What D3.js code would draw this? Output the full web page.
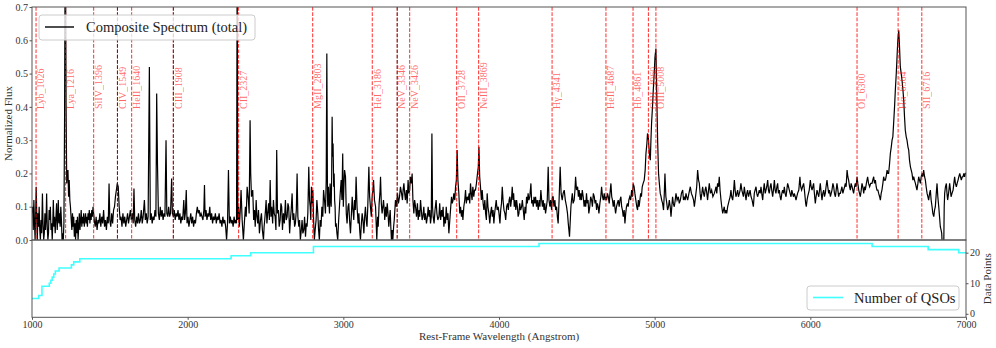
<!DOCTYPE html>
<html>
<head>
<meta charset="utf-8">
<script src="https://cdn.jsdelivr.net/npm/d3@7"></script>
<style>
  body { margin: 0; background: #fff; }
  text { font-family: "Liberation Serif", "Times New Roman", serif; }
</style>
</head>
<body>
<svg id="chart" width="996" height="348"></svg>
<script>
// composite spectrum, [rest wavelength (A), normalized flux]
var spectrum = [
  [1000,0.08],[1004,0.1],[1008,0.03],[1012,0.12],[1016,0.05],[1020,0.0],[1024,0.09],[1027,0.16],[1031,0.06],[1034,0.0],
  [1038,0.08],[1042,0.04],[1046,0.1],[1050,0.03],[1054,0.0],[1058,0.06],[1062,0.02],[1067,0.14],[1071,0.05],[1075,0.0],
  [1079,0.02],[1083,0.08],[1087,0.03],[1091,0.07],[1094,0.14],[1098,0.04],[1102,0.0],[1106,0.02],[1110,0.09],[1114,0.06],
  [1118,0.1],[1122,0.03],[1126,0.05],[1130,0.0],[1134,0.06],[1137,0.12],[1141,0.04],[1145,0.07],[1149,0.02],[1153,0.06],
  [1158,0.11],[1162,0.03],[1166,0.07],[1169,0.12],[1173,0.05],[1177,0.08],[1181,0.04],[1185,0.1],[1189,0.06],[1193,0.0],
  [1197,0.02],[1201,0.0],[1205,0.05],[1209,0.34],[1214,1.0],[1219,0.4],[1223,0.17],[1227,0.2],[1231,0.21],[1235,0.13],
  [1239,0.18],[1243,0.12],[1247,0.1],
  [1252,0.06],[1256,0.03],[1260,0.08],[1264,0.04],[1268,0.07],[1272,0.01],[1276,0.05],[1280,0.0],[1284,0.06],[1288,0.02],
  [1292,0.07],[1296,0.0],[1300,0.04],[1304,0.08],[1308,0.03],[1312,0.06],[1316,0.09],[1320,0.04],[1324,0.07],[1328,0.05],
  [1332,0.08],[1336,0.04],[1340,0.06],[1344,0.08],[1348,0.05],[1352,0.07],[1356,0.04],[1360,0.08],[1364,0.06],[1368,0.09],
  [1372,0.05],[1376,0.08],[1380,0.06],[1384,0.09],[1388,0.07],[1392,0.1],[1396,0.08],[1400,0.06],
  [1406,0.04],[1412,0.07],[1418,0.03],[1424,0.06],[1430,0.05],[1436,0.08],[1442,0.04],[1448,0.07],[1454,0.05],[1460,0.09],
  [1466,0.04],[1472,0.06],[1478,0.03],[1484,0.07],[1490,0.05],[1495,0.17],[1500,0.06],[1506,0.04],[1512,0.08],[1518,0.05],
  [1524,0.09],[1530,0.1],[1536,0.13],[1542,0.15],[1548,0.17],[1554,0.16],[1560,0.1],[1566,0.06],
  [1572,0.07],[1578,0.04],[1584,0.08],[1590,0.05],[1596,0.07],[1602,0.04],[1608,0.06],[1614,0.08],[1620,0.05],[1626,0.07],
  [1632,0.09],[1638,0.06],[1644,0.08],[1650,0.05],[1655,0.155],[1660,0.06],[1666,0.04],[1672,0.07],[1678,0.05],[1684,0.08],
  [1690,0.05],[1696,0.06],[1702,0.09],[1708,0.05],[1714,0.07],[1722,0.12],[1728,0.06],[1734,0.08],[1740,0.05],[1746,0.07],
  [1754,0.52],[1760,0.06],[1766,0.08],[1772,0.05],[1778,0.07],[1784,0.06],[1790,0.09],[1796,0.07],[1801,0.44],[1806,0.23],
  [1812,0.08],[1818,0.06],[1824,0.1],[1830,0.07],[1836,0.09],[1842,0.06],[1848,0.08],[1854,0.07],[1861,0.3],[1866,0.08],
  [1872,0.07],[1878,0.1],[1884,0.07],[1890,0.08],[1897,0.185],[1902,0.08],[1908,0.07],
  [1914,0.09],[1920,0.06],[1926,0.08],[1932,0.07],[1938,0.09],[1944,0.06],[1950,0.08],[1956,0.05],[1962,0.07],[1968,0.06],
  [1975,0.12],[1980,0.06],[1985,0.08],[1991,0.15],[1996,0.05],[2002,0.07],[2008,0.04],[2014,0.06],[2020,0.08],[2026,0.05],
  [2032,0.07],[2038,0.04],[2044,0.06],[2050,0.05],[2056,0.08],[2062,0.1],[2068,0.08],[2074,0.09],[2080,0.07],[2086,0.08],
  [2092,0.07],[2098,0.06],[2104,0.09],[2108,0.165],[2112,0.07],[2118,0.09],[2124,0.06],[2130,0.08],[2136,0.07],[2142,0.1],
  [2148,0.06],[2154,0.08],[2160,0.05],[2166,0.07],[2172,0.06],[2178,0.08],[2184,0.05],[2190,0.07],[2196,0.06],[2202,0.08],
  [2208,0.05],[2214,0.06],[2220,0.04],[2226,0.07],[2232,0.05],[2238,0.06],[2244,0.04],[2250,0.0],[2256,0.05],[2262,0.21],
  [2268,0.05],[2274,0.07],[2280,0.05],[2286,0.06],[2292,0.04],[2298,0.07],[2304,0.05],[2310,0.06],[2314,0.05],[2318,0.85],
  [2322,0.06],[2327,0.1],
  [2332,0.04],[2338,0.09],[2343,0.15],[2350,0.06],[2358,0.0],[2364,0.05],[2371,0.1],[2376,0.07],[2382,0.16],[2390,0.12],
  [2395,0.08],[2401,0.36],[2405,0.2],[2410,0.13],[2418,0.15],[2424,0.06],[2429,0.09],[2434,0.04],[2440,0.12],[2445,0.07],
  [2450,0.05],[2455,0.09],[2461,0.02],[2468,0.06],[2474,0.08],[2480,0.03],[2487,0.0],[2491,0.04],[2495,0.06],[2500,0.09],
  [2504,0.12],[2509,0.05],[2514,0.08],[2520,0.11],[2525,0.06],[2530,0.18],[2535,0.07],[2540,0.1],[2546,0.05],[2551,0.12],
  [2556,0.08],[2562,0.07],[2567,0.03],[2572,0.27],[2577,0.08],[2583,0.09],[2588,0.04],[2594,0.06],[2599,0.11],[2604,0.1],
  [2609,0.03],[2615,0.08],[2621,0.05],[2628,0.12],[2633,0.06],[2639,0.07],[2644,0.11],[2649,0.1],[2655,0.02],[2660,0.06],
  [2665,0.09],[2671,0.14],[2676,0.06],[2682,0.08],[2687,0.04],[2692,0.05],[2698,0.09],[2703,0.2],[2708,0.07],[2714,0.04],
  [2719,0.06],[2724,0.0],[2730,0.03],[2735,0.06],[2740,0.02],[2746,0.03],[2751,0.07],[2757,0.01],[2762,0.05],[2767,0.04],
  [2772,0.08],[2778,0.22],[2783,0.12],[2787,0.1],[2791,0.06],[2795,0.16],[2800,0.11],[2804,0.15],
  [2809,0.06],[2814,0.0],[2819,0.03],[2825,0.06],[2830,0.12],[2836,0.08],[2841,0.03],[2846,0.0],[2851,0.06],[2857,0.04],
  [2862,0.1],[2868,0.07],[2873,0.15],[2879,0.12],[2885,0.08],[2890,0.18],[2894,0.56],[2898,0.14],[2900,0.1],[2904,0.16],
  [2907,0.12],[2911,0.08],[2915,0.17],[2918,0.13],[2922,0.1],[2925,0.19],[2928,0.37],[2931,0.25],[2934,0.29],[2938,0.16],
  [2941,0.2],[2944,0.12],[2947,0.1],[2950,0.04],[2954,0.05],[2959,0.02],[2964,0.0],[2970,0.06],[2975,0.1],[2980,0.14],
  [2986,0.18],[2991,0.12],[2996,0.26],[3000,0.1],[3003,0.15],[3008,0.21],[3014,0.19],[3019,0.08],[3024,0.05],[3030,0.1],
  [3035,0.11],[3040,0.06],[3046,0.02],[3051,0.07],[3057,0.13],[3062,0.09],[3067,0.06],[3072,0.12],[3077,0.09],[3082,0.19],
  [3088,0.1],[3095,0.05],[3100,0.08],[3105,0.03],[3110,0.0],[3116,0.05],[3121,0.08],[3126,0.06],[3132,0.02],[3137,0.07],
  [3142,0.1],[3147,0.06],[3152,0.04],[3157,0.1],[3164,0.22],[3169,0.13],[3174,0.1],[3180,0.07],[3185,0.13],[3190,0.15],
  [3194,0.18],[3200,0.12],[3207,0.1],[3211,0.05],[3215,0.0],[3220,0.07],[3224,0.04],[3230,0.11],[3235,0.14],[3239,0.19],
  [3244,0.11],[3249,0.08],[3254,0.1],[3258,0.12],[3263,0.09],[3266,0.06],[3272,0.1],[3277,0.07],[3282,0.11],[3287,0.08],
  [3292,0.04],[3297,0.07],[3301,0.09],[3305,0.04],[3309,0.0],[3314,0.03],[3318,0.0],[3323,0.04],[3327,0.06],[3331,0.09],
  [3335,0.12],[3341,0.1],[3348,0.14],[3354,0.11],[3361,0.13],[3367,0.16],[3374,0.14],[3380,0.12],[3384,0.15],[3389,0.17],
  [3394,0.14],[3399,0.12],[3405,0.15],[3410,0.11],[3416,0.18],[3421,0.14],[3426,0.15],[3431,0.19],[3437,0.17],[3442,0.2],
  [3447,0.12],[3453,0.08],[3458,0.12],[3464,0.1],[3470,0.07],[3476,0.11],[3481,0.06],[3487,0.09],[3491,0.07],[3496,0.12],
  [3501,0.09],[3506,0.06],[3511,0.07],[3517,0.1],[3522,0.06],[3528,0.08],[3534,0.05],[3540,0.07],[3545,0.1],[3550,0.07],
  [3555,0.09],[3560,0.05],[3565,0.07],[3569,0.32],[3573,0.1],[3577,0.07],[3583,0.05],[3589,0.09],[3596,0.12],[3601,0.08],
  [3607,0.06],[3614,0.07],[3619,0.11],[3625,0.06],[3631,0.09],[3636,0.07],[3641,0.1],[3646,0.04],[3651,0.07],[3656,0.05],
  [3661,0.1],[3667,0.06],[3672,0.08],[3678,0.02],[3684,0.06],[3690,0.1],[3695,0.13],[3700,0.11],[3705,0.12],[3710,0.14],
  [3716,0.12],[3721,0.16],[3726,0.18],[3731,0.27],[3736,0.18],[3742,0.14],[3748,0.08],[3753,0.1],[3759,0.07],[3764,0.09],
  [3768,0.06],[3774,0.1],[3780,0.12],[3785,0.15],[3790,0.11],[3796,0.13],[3802,0.12],[3808,0.14],[3812,0.11],[3817,0.17],
  [3822,0.14],[3827,0.12],[3832,0.16],[3838,0.13],[3843,0.15],[3849,0.15],[3855,0.17],[3862,0.2],[3867,0.22],[3871,0.28],
  [3876,0.19],[3881,0.16],[3887,0.12],[3892,0.15],[3898,0.11],[3903,0.09],[3909,0.12],[3914,0.08],[3919,0.06],[3924,0.14],
  [3929,0.1],[3935,0.08],[3941,0.05],[3946,0.08],[3952,0.1],[3957,0.07],[3962,0.09],[3967,0.05],[3972,0.08],[3977,0.1],
  [3982,0.12],[3988,0.09],[3995,0.1],[4000,0.08],[4006,0.05],[4011,0.09],[4016,0.11],[4021,0.16],[4026,0.12],[4032,0.09],
  [4038,0.08],[4043,0.06],[4049,0.1],[4055,0.11],[4060,0.09],[4065,0.12],[4070,0.13],[4075,0.1],[4080,0.12],[4085,0.16],
  [4090,0.12],[4094,0.14],[4098,0.1],[4103,0.12],[4108,0.09],[4113,0.12],[4118,0.1],[4123,0.07],[4128,0.08],[4133,0.11],
  [4139,0.09],[4145,0.1],[4150,0.12],[4156,0.09],[4162,0.06],[4167,0.1],[4172,0.08],[4177,0.13],[4182,0.11],[4187,0.14],
  [4192,0.12],[4198,0.13],[4205,0.17],[4210,0.11],[4215,0.12],[4220,0.1],[4225,0.13],[4230,0.11],[4235,0.13],[4241,0.1],
  [4246,0.12],[4252,0.09],[4258,0.12],[4263,0.1],[4269,0.15],[4274,0.12],[4279,0.1],[4284,0.12],[4289,0.09],[4294,0.11],
  [4299,0.08],[4305,0.1],[4310,0.12],[4316,0.22],[4321,0.12],[4327,0.1],[4332,0.12],[4338,0.09],[4343,0.13],[4348,0.13],
  [4353,0.1],[4359,0.12],[4364,0.09],[4370,0.1],[4375,0.07],[4380,0.05],[4386,0.12],[4393,0.22],[4399,0.14],[4406,0.12],
  [4412,0.14],[4419,0.15],[4426,0.12],[4434,0.1],[4440,0.08],[4445,0.05],[4449,0.03],[4453,0.01],[4458,0.06],[4462,0.1],
  [4466,0.12],[4471,0.14],[4476,0.11],[4483,0.12],[4488,0.15],[4492,0.19],[4498,0.15],[4505,0.16],[4510,0.13],[4515,0.15],
  [4520,0.12],[4525,0.14],[4530,0.12],[4535,0.15],[4541,0.13],[4547,0.1],[4552,0.12],[4557,0.1],[4562,0.14],[4567,0.11],
  [4572,0.12],[4577,0.08],[4583,0.1],[4589,0.13],[4595,0.12],[4600,0.1],[4606,0.14],[4612,0.13],[4617,0.11],[4622,0.12],
  [4627,0.09],[4632,0.11],[4637,0.1],[4642,0.08],[4648,0.11],[4654,0.13],[4659,0.16],[4665,0.13],[4670,0.12],[4676,0.14],
  [4681,0.12],[4686,0.13],[4691,0.12],[4697,0.14],[4702,0.13],[4708,0.11],[4713,0.14],[4719,0.17],[4724,0.13],[4729,0.12],
  [4734,0.1],[4740,0.12],[4744,0.1],[4749,0.08],[4755,0.1],[4760,0.11],[4766,0.12],[4772,0.1],[4777,0.12],[4783,0.13],
  [4788,0.1],[4793,0.09],[4798,0.07],[4804,0.09],[4809,0.05],[4814,0.08],[4819,0.1],[4825,0.11],[4830,0.1],[4834,0.12],
  [4840,0.13],[4846,0.12],[4852,0.15],[4857,0.13],[4862,0.17],[4868,0.16],[4873,0.14],[4879,0.12],[4885,0.1],[4890,0.09],
  [4895,0.12],[4900,0.1],[4905,0.12],[4910,0.14],[4915,0.13],[4920,0.16],[4926,0.17],[4933,0.18],[4939,0.21],[4944,0.26],
  [4950,0.29],[4954,0.32],[4959,0.31],[4963,0.28],[4968,0.25],[4972,0.24],[4976,0.3],[4980,0.35],[4986,0.4],[4991,0.45],
  [4997,0.5],[5002,0.55],[5008,0.575],[5013,0.45],[5019,0.3],[5025,0.2],[5030,0.17],[5036,0.14],[5041,0.13],[5045,0.12],
  [5051,0.11],[5057,0.09],[5062,0.14],[5066,0.2],[5072,0.13],[5078,0.11],[5083,0.09],[5089,0.1],[5094,0.12],[5100,0.1],
  [5105,0.07],[5110,0.1],[5115,0.13],[5120,0.11],[5126,0.1],[5132,0.12],[5137,0.14],[5144,0.12],[5152,0.13],[5158,0.11],
  [5165,0.12],[5172,0.14],[5180,0.15],[5185,0.12],[5190,0.13],[5196,0.12],[5201,0.14],[5206,0.13],[5212,0.12],[5220,0.14],
  [5229,0.16],[5236,0.14],[5244,0.13],[5250,0.12],[5255,0.1],[5260,0.12],[5265,0.14],[5270,0.16],[5276,0.21],[5282,0.18],
  [5287,0.17],[5292,0.14],[5297,0.12],[5303,0.14],[5308,0.16],[5314,0.14],[5319,0.13],[5324,0.15],[5329,0.16],[5335,0.14],
  [5340,0.12],[5346,0.15],[5351,0.17],[5358,0.14],[5366,0.15],[5374,0.13],[5383,0.14],[5389,0.15],[5394,0.16],[5399,0.14],
  [5404,0.17],[5410,0.16],[5415,0.19],[5420,0.15],[5426,0.12],[5431,0.1],[5437,0.08],[5442,0.09],[5447,0.1],[5452,0.08],
  [5458,0.09],[5463,0.08],[5469,0.1],[5474,0.11],[5479,0.12],[5485,0.13],[5490,0.15],[5495,0.13],[5501,0.12],[5506,0.14],
  [5512,0.18],[5517,0.15],[5522,0.13],[5528,0.14],[5533,0.15],[5538,0.13],[5544,0.14],[5549,0.15],[5554,0.17],[5560,0.15],
  [5565,0.14],[5570,0.13],[5576,0.16],[5581,0.14],[5587,0.12],[5592,0.14],[5597,0.15],[5603,0.13],[5608,0.14],[5613,0.15],
  [5619,0.13],[5626,0.12],[5634,0.1],[5640,0.14],[5645,0.15],[5651,0.16],[5656,0.14],[5661,0.13],[5667,0.14],[5672,0.15],
  [5678,0.14],[5683,0.16],[5688,0.14],[5694,0.12],[5699,0.15],[5704,0.17],[5710,0.14],[5715,0.15],[5720,0.16],[5726,0.18],
  [5731,0.15],[5736,0.14],[5742,0.16],[5747,0.17],[5752,0.15],[5758,0.13],[5763,0.15],[5769,0.18],[5774,0.15],[5779,0.14],
  [5785,0.16],[5790,0.17],[5795,0.14],[5801,0.15],[5806,0.13],[5811,0.12],[5817,0.14],[5822,0.15],[5828,0.14],[5833,0.16],
  [5838,0.14],[5844,0.13],[5849,0.15],[5854,0.17],[5860,0.16],[5865,0.15],[5870,0.14],[5876,0.13],[5881,0.15],[5886,0.14],
  [5892,0.13],[5897,0.14],[5903,0.13],[5908,0.12],[5913,0.13],[5918,0.14],[5926,0.15],[5933,0.19],[5938,0.16],[5944,0.15],
  [5950,0.16],[5957,0.17],[5962,0.15],[5966,0.13],[5970,0.11],[5974,0.1],[5979,0.12],[5983,0.13],[5988,0.14],[5993,0.15],
  [6000,0.18],[6005,0.16],[6011,0.15],[6016,0.16],[6021,0.17],[6026,0.14],[6032,0.11],[6037,0.13],[6043,0.15],[6048,0.14],
  [6054,0.13],[6059,0.15],[6064,0.17],[6070,0.14],[6075,0.12],[6080,0.14],[6086,0.15],[6091,0.13],[6096,0.14],[6101,0.16],
  [6107,0.18],[6112,0.16],[6118,0.14],[6123,0.15],[6129,0.13],[6134,0.14],[6139,0.15],[6145,0.17],[6150,0.16],[6155,0.14],
  [6161,0.13],[6166,0.15],[6171,0.17],[6177,0.15],[6182,0.13],[6187,0.14],[6193,0.14],[6198,0.15],[6203,0.16],[6209,0.14],
  [6214,0.15],[6220,0.16],[6225,0.17],[6230,0.16],[6236,0.21],[6241,0.19],[6246,0.18],[6252,0.16],[6257,0.15],[6262,0.17],
  [6268,0.16],[6273,0.15],[6278,0.14],[6284,0.16],[6289,0.17],[6294,0.16],[6300,0.19],[6305,0.17],[6311,0.15],[6316,0.14],
  [6321,0.13],[6327,0.15],[6332,0.17],[6337,0.16],[6343,0.14],[6348,0.16],[6353,0.15],[6360,0.17],[6368,0.19],[6374,0.17],
  [6381,0.16],[6388,0.17],[6396,0.17],[6401,0.18],[6407,0.19],[6412,0.17],[6418,0.18],[6423,0.16],[6428,0.15],[6434,0.15],
  [6439,0.14],[6445,0.13],[6450,0.12],[6455,0.14],[6460,0.15],[6466,0.17],[6471,0.19],[6476,0.18],[6482,0.18],[6487,0.19],
  [6493,0.21],[6498,0.2],[6503,0.2],[6509,0.23],[6514,0.26],[6520,0.28],[6525,0.3],[6530,0.31],[6535,0.35],[6541,0.4],
  [6546,0.45],[6552,0.5],[6557,0.55],[6562,0.6],[6568,0.63],[6573,0.58],[6578,0.52],[6584,0.5],[6589,0.48],[6595,0.45],
  [6600,0.42],[6605,0.37],[6610,0.33],[6616,0.31],[6621,0.3],[6627,0.28],[6632,0.27],[6637,0.24],[6643,0.22],[6648,0.21],
  [6653,0.2],[6659,0.18],[6664,0.19],[6669,0.18],[6675,0.17],[6680,0.16],[6685,0.15],[6691,0.17],[6696,0.19],[6701,0.18],
  [6707,0.17],[6712,0.19],[6718,0.2],[6723,0.19],[6728,0.21],[6734,0.19],[6739,0.18],[6744,0.16],[6750,0.14],[6755,0.13],
  [6760,0.12],[6766,0.14],[6771,0.15],[6776,0.12],[6782,0.1],[6787,0.08],[6793,0.07],[6798,0.09],[6803,0.1],[6809,0.14],
  [6814,0.17],[6819,0.13],[6825,0.1],[6830,0.07],[6835,0.04],[6840,0.03],[6844,0.02],[6847,-0.01],[6850,-0.03],[6857,-0.02],
  [6860,0.1],[6863,0.14],[6868,0.16],[6874,0.17],[6878,0.14],[6882,0.12],[6888,0.14],[6895,0.17],[6900,0.15],[6904,0.13],
  [6910,0.14],[6917,0.15],[6922,0.17],[6927,0.19],[6932,0.17],[6938,0.16],[6943,0.17],[6949,0.18],[6954,0.19],[6960,0.2],
  [6965,0.19],[6970,0.18],[6976,0.19],[6981,0.19],[6986,0.2],[6991,0.19],[6996,0.2],[7000,0.2]
];

// emission lines marked on the spectrum
var lineNames = ["Lyb_1026", "Lya_1216", "SiIV_1396", "CIV_1549", "HeII_1640", "CIII_1908", "CII_2327",
                 "MgII_2803", "HeI_3186", "NeV_3346", "NeV_3426", "OII_3728", "NeIII_3869", "H\u03b3_4341",
                 "HeII_4687", "Hb_4861", "OIII_4960", "OIII_5008", "OI_6300", "H\u03b1_6564", "SII_6716"];
var lineWaves = [1026, 1216, 1396, 1549, 1640, 1908, 2327, 2803, 3186, 3346, 3426, 3728, 3869, 4341,
                 4687, 4861, 4960, 5008, 6300, 6564, 6716];
// lines that also carry a dark dashed marker in the figure
var darkLineWaves = [1549, 1908, 3346];

// number of QSOs contributing; count holds from each wavelength up to the next
var qsoWave  = [1000, 1043, 1064, 1111, 1121, 1130, 1140, 1150, 1174, 1253, 1268, 1307, 2279, 2405, 2808, 4257, 6397, 6757, 6953, 7000];
var qsoCount = [5,    6,    9,    10,   11,   12,   13,   14,   15,   16,   17,   18,   19,   20,   22,   23,   22,   21,   20,   20];

var fluxTicks = [0, 0.1, 0.2, 0.3, 0.4, 0.5, 0.6, 0.7];
var waveTicks = [1000, 2000, 3000, 4000, 5000, 6000, 7000];
var countTicks = [0, 10, 20];

(function() {
  var svg = d3.select("#chart");
  var pLeft = 32, pRight = 966, pTop = 7, pMid = 240, pBottom = 317.3;

  var x = d3.scaleLinear().domain([1000, 7000]).range([pLeft, pRight]);
  var yFlux = d3.scaleLinear().domain([0, 0.7]).range([pMid, pTop]);
  var yCount = d3.scaleLinear().domain([-1.15, 24.15]).range([pBottom, pMid]);

  var defs = svg.append("defs");
  defs.append("clipPath").attr("id", "clipTop")
      .append("rect").attr("x", pLeft).attr("y", pTop).attr("width", pRight - pLeft).attr("height", pMid - pTop);
  defs.append("clipPath").attr("id", "clipBot")
      .append("rect").attr("x", pLeft).attr("y", pMid).attr("width", pRight - pLeft).attr("height", pBottom - pMid);

  // top panel: spectrum
  var topG = svg.append("g").attr("clip-path", "url(#clipTop)");
  var specLine = d3.line().x(function(d) { return x(d[0]); }).y(function(d) { return yFlux(d[1]); });
  topG.append("path")
      .datum(spectrum)
      .attr("d", specLine)
      .attr("fill", "none")
      .attr("stroke", "#000")
      .attr("stroke-width", 1.2);

  // emission line markers
  topG.selectAll(".em-line")
      .data(lineWaves)
      .enter().append("line")
      .attr("class", "em-line")
      .attr("x1", function(d) { return x(d); })
      .attr("x2", function(d) { return x(d); })
      .attr("y1", pTop).attr("y2", pMid)
      .attr("stroke", "red")
      .attr("stroke-opacity", 0.75)
      .attr("stroke-width", 1.1)
      .attr("stroke-dasharray", "3.7,1.6");

  topG.selectAll(".dark-line")
      .data(darkLineWaves)
      .enter().append("line")
      .attr("class", "dark-line")
      .attr("x1", function(d) { return x(d); })
      .attr("x2", function(d) { return x(d); })
      .attr("y1", pTop).attr("y2", pMid)
      .attr("stroke", "#000")
      .attr("stroke-opacity", 0.6)
      .attr("stroke-width", 1)
      .attr("stroke-dasharray", "3.7,1.6");

  topG.selectAll(".em-label")
      .data(lineWaves)
      .enter().append("text")
      .attr("class", "em-label")
      .attr("transform", function(d) { return "translate(" + (x(d) + 8.3) + ",109) rotate(-90)"; })
      .attr("fill", "red")
      .attr("fill-opacity", 0.6)
      .attr("font-size", "10px")
      .text(function(d, i) { return lineNames[i]; });

  // legend for the spectrum (semi transparent frame like matplotlib)
  var leg1 = svg.append("g");
  leg1.append("rect").attr("x", 39).attr("y", 15).attr("width", 216).attr("height", 25)
      .attr("rx", 3).attr("fill", "#fff").attr("fill-opacity", 0.8)
      .attr("stroke", "#ccc").attr("stroke-width", 1);
  leg1.append("line").attr("x1", 45).attr("x2", 74).attr("y1", 27).attr("y2", 27)
      .attr("stroke", "#000").attr("stroke-width", 1.4);
  leg1.append("text").attr("x", 86).attr("y", 32).attr("font-size", "14.5px").attr("fill", "#222")
      .text("Composite Spectrum (total)");

  // bottom panel: number of QSOs
  var botG = svg.append("g").attr("clip-path", "url(#clipBot)");
  var qsoData = qsoWave.map(function(w, i) { return [w, qsoCount[i]]; });
  var stepLine = d3.line().curve(d3.curveStepAfter)
      .x(function(d) { return x(d[0]); }).y(function(d) { return yCount(d[1]); });
  botG.append("path")
      .datum(qsoData)
      .attr("d", stepLine)
      .attr("fill", "none")
      .attr("stroke", "#00ffff")
      .attr("stroke-opacity", 0.75)
      .attr("stroke-width", 1.6);

  var leg2 = svg.append("g");
  leg2.append("rect").attr("x", 807).attr("y", 286).attr("width", 152).attr("height", 24)
      .attr("rx", 3).attr("fill", "#fff").attr("fill-opacity", 0.8)
      .attr("stroke", "#ccc").attr("stroke-width", 1);
  leg2.append("line").attr("x1", 813).attr("x2", 843).attr("y1", 297.5).attr("y2", 297.5)
      .attr("stroke", "#00ffff").attr("stroke-opacity", 0.75).attr("stroke-width", 1.6);
  leg2.append("text").attr("x", 854).attr("y", 302.5).attr("font-size", "14.5px").attr("fill", "#222")
      .text("Number of QSOs");

  // frames
  svg.append("rect").attr("x", pLeft).attr("y", pTop).attr("width", pRight - pLeft).attr("height", pMid - pTop)
      .attr("fill", "none").attr("stroke", "#555").attr("stroke-width", 1);
  svg.append("rect").attr("x", pLeft).attr("y", pMid).attr("width", pRight - pLeft).attr("height", pBottom - pMid)
      .attr("fill", "none").attr("stroke", "#555").attr("stroke-width", 1);

  // axes
  function styleAxis(g) {
    g.select(".domain").remove();
    g.selectAll(".tick line").attr("stroke", "#555");
    g.selectAll(".tick text").attr("fill", "#333").attr("font-size", "10px")
     .attr("font-family", "Liberation Serif, serif");
  }

  svg.append("g").attr("transform", "translate(" + pLeft + ",0)")
     .call(d3.axisLeft(yFlux).tickValues(fluxTicks).tickFormat(d3.format(".1f")).tickSize(2.5).tickPadding(1.5))
     .call(styleAxis);

  svg.append("g").attr("transform", "translate(0," + pBottom + ")")
     .call(d3.axisBottom(x).tickValues(waveTicks).tickFormat(d3.format("d")).tickSize(2.5).tickPadding(1.5))
     .call(styleAxis);

  svg.append("g").attr("transform", "translate(" + pRight + ",0)")
     .call(d3.axisRight(yCount).tickValues(countTicks).tickSize(2.5).tickPadding(1.5))
     .call(styleAxis);

  // axis titles
  svg.append("text")
     .attr("transform", "translate(11.5," + ((pTop + pMid) / 2) + ") rotate(-90)")
     .attr("text-anchor", "middle").attr("font-size", "11px").attr("fill", "#333")
     .text("Normalized Flux");

  svg.append("text")
     .attr("x", (pLeft + pRight) / 2).attr("y", 339.5)
     .attr("text-anchor", "middle").attr("font-size", "11px").attr("fill", "#333")
     .text("Rest-Frame Wavelength (Angstrom)");

  svg.append("text")
     .attr("transform", "translate(991," + ((pMid + pBottom) / 2) + ") rotate(-90)")
     .attr("text-anchor", "middle").attr("font-size", "11px").attr("fill", "#333")
     .text("Data Points");
})();
</script>
</body>
</html>
